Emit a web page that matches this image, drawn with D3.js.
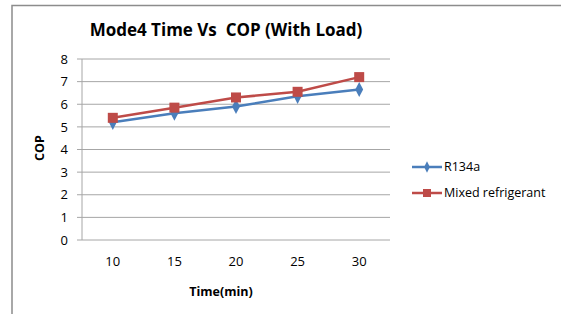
<!DOCTYPE html>
<html><head><meta charset="utf-8">
<script src="https://cdn.jsdelivr.net/npm/d3@7"></script>
<style>body{margin:0;background:#fff}svg{display:block}text{font-family:"Open Sans","Noto Sans",sans-serif;fill:#000}</style>
</head><body>
<svg id="c" width="561" height="314"></svg>
<script>
const categories = [10, 15, 20, 25, 30];
const r134a = [5.2, 5.6, 5.9, 6.35, 6.65];
const mixed = [5.4, 5.85, 6.3, 6.55, 7.2];
const yTicks = [0, 1, 2, 3, 4, 5, 6, 7, 8];
const seriesNames = ["R134a", "Mixed refrigerant"];
const colors = ["#4a7ebb", "#be4b48"];

const svg = d3.select("#c");
// chart border
svg.append("rect").attr("x", 12).attr("y", 5.5).attr("width", 560).attr("height", 320)
  .attr("fill", "none").attr("stroke", "#8c8c8c").attr("stroke-width", 1.5);

const L = 82, R = 390, T = 59, B = 240;
const x = d3.scaleBand().domain(categories).range([L, R]);
const y = d3.scaleLinear().domain([0, 8]).range([B, T]);

// gridlines
svg.append("g").selectAll("line").data(yTicks).join("line")
  .attr("x1", L - 5).attr("x2", R).attr("y1", d => y(d)).attr("y2", d => y(d))
  .attr("stroke", "#a6a6a6").attr("stroke-width", 1);
// y axis line
svg.append("line").attr("x1", L).attr("x2", L).attr("y1", T).attr("y2", B)
  .attr("stroke", "#a6a6a6");

// y labels
const ya = svg.append("g").attr("transform", `translate(${L - 14},0)`)
  .call(d3.axisLeft(y).tickValues(yTicks).tickSize(0).tickPadding(0).tickFormat(d3.format("d")));
ya.select(".domain").remove();
ya.selectAll("text").style("font-size", "13px").style("font-family", "'Open Sans',sans-serif").attr("fill", "#000");

// x labels
const xa = svg.append("g").attr("transform", `translate(0,${B + 17})`)
  .call(d3.axisBottom(x).tickSize(0).tickPadding(0));
xa.select(".domain").remove();
xa.selectAll("text").style("font-size", "13px").style("font-family", "'Open Sans',sans-serif").attr("fill", "#000").attr("dy", "0.71em");

const cx = d => x(d) + x.bandwidth() / 2;
const line = d3.line().x((d, i) => cx(categories[i])).y(d => y(d));
[r134a, mixed].forEach((vals, si) => {
  svg.append("path").datum(vals).attr("d", line).attr("fill", "none")
    .attr("stroke", colors[si]).attr("stroke-width", 2.5);
});
// markers
svg.append("g").selectAll("path").data(r134a).join("path")
  .attr("d", d3.symbol(d3.symbolDiamond, 60)())
  .attr("transform", (d, i) => `translate(${cx(categories[i])},${y(d)}) scale(0.95,1.05)`)
  .attr("fill", colors[0]);
svg.append("g").selectAll("rect").data(mixed).join("rect")
  .attr("x", (d, i) => cx(categories[i]) - 5).attr("y", d => y(d) - 5)
  .attr("width", 10).attr("height", 10).attr("fill", colors[1]);

// titles
svg.append("text").attr("x", 226).attr("y", 36).attr("text-anchor", "middle")
  .style("font-size", "17px").style("font-weight", "bold").style("white-space", "pre")
  .text("Mode4 Time Vs  COP (With Load)");
svg.append("text").attr("transform", "translate(44,148) rotate(-90)").attr("text-anchor", "middle")
  .style("font-size", "12.5px").style("font-weight", "bold").text("COP");
svg.append("text").attr("x", 221).attr("y", 296).attr("text-anchor", "middle")
  .style("font-size", "12.5px").style("font-weight", "bold").text("Time(min)");

// legend
const lg = svg.append("g");
seriesNames.forEach((n, i) => {
  const ly = 167 + i * 26;
  lg.append("line").attr("x1", 412).attr("x2", 442).attr("y1", ly).attr("y2", ly)
    .attr("stroke", colors[i]).attr("stroke-width", 2.5);
  if (i === 0) {
    lg.append("path").attr("d", d3.symbol(d3.symbolDiamond, 36)())
      .attr("transform", `translate(427,${ly}) scale(0.9,1.05)`).attr("fill", colors[i]);
  } else {
    lg.append("rect").attr("x", 423).attr("y", ly - 4).attr("width", 8).attr("height", 8).attr("fill", colors[i]);
  }
  lg.append("text").attr("x", 444).attr("y", ly).attr("dy", "0.35em")
    .style("font-size", "12.5px").text(n);
});
</script>
</body></html>
